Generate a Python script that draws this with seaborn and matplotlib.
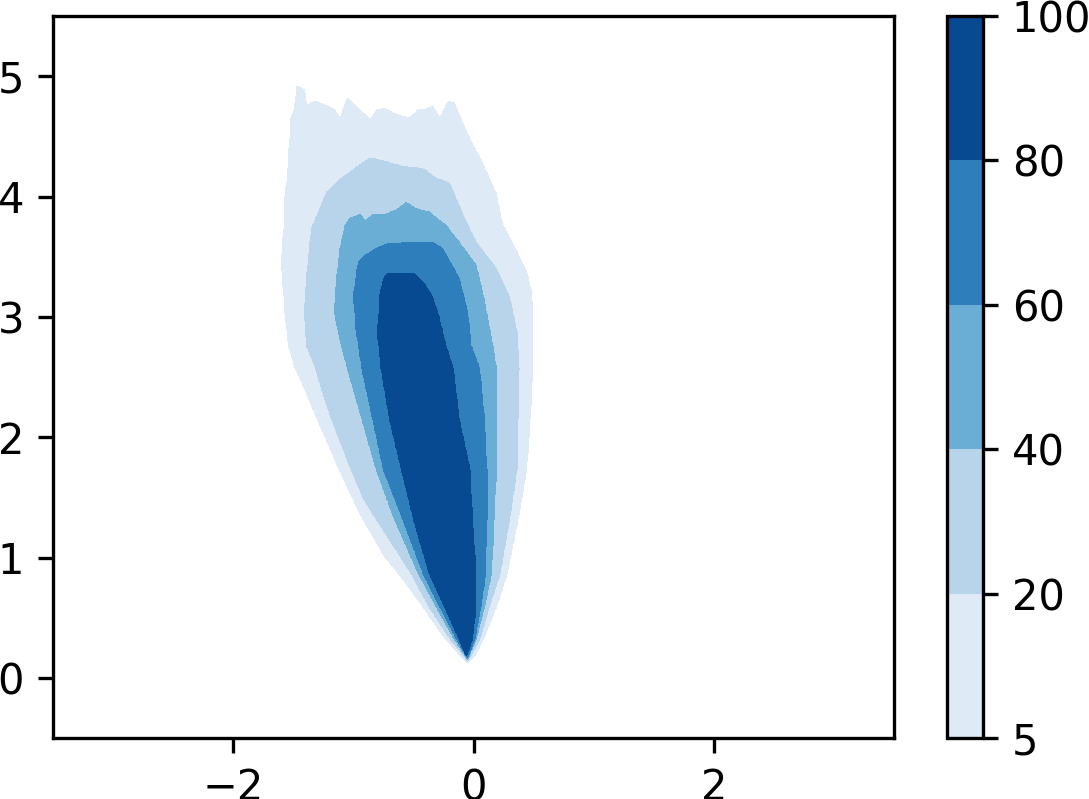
import numpy as np
import matplotlib
matplotlib.use("Agg")
import matplotlib.pyplot as plt
from matplotlib.path import Path
import seaborn as sns

# contour levels (percent) and the value painted inside each band
levels = [5, 20, 40, 60, 80, 100]
band_values = [12.5, 30, 50, 70, 90]

# outlines of each filled band (x, y)
outline_5 = [(-0.05, 0.125), (0.01, 0.18), (0.08, 0.32), (0.19, 0.59), (0.28, 0.87), (0.37, 1.32),
             (0.44, 1.73), (0.47, 2.15), (0.49, 2.57), (0.49, 3.04), (0.48, 3.21), (0.44, 3.38),
             (0.36, 3.54), (0.24, 3.77), (0.19, 4.02), (0.13, 4.15), (0.05, 4.33), (-0.01, 4.43),
             (-0.10, 4.63), (-0.16, 4.775), (-0.21, 4.79), (-0.28, 4.65), (-0.34, 4.75), (-0.41, 4.72),
             (-0.46, 4.72), (-0.53, 4.65), (-0.64, 4.68), (-0.74, 4.73), (-0.80, 4.72), (-0.86, 4.64),
             (-0.98, 4.75), (-1.05, 4.82), (-1.11, 4.65), (-1.17, 4.73), (-1.31, 4.79), (-1.35, 4.78),
             (-1.39, 4.76), (-1.41, 4.89), (-1.47, 4.92), (-1.49, 4.73), (-1.52, 4.65), (-1.55, 4.15),
             (-1.57, 4.00), (-1.58, 3.73), (-1.60, 3.45), (-1.59, 3.32), (-1.57, 3.04), (-1.54, 2.76),
             (-1.49, 2.59), (-1.37, 2.32), (-1.30, 2.15), (-1.13, 1.76), (-1.00, 1.48), (-0.92, 1.32),
             (-0.74, 1.01), (-0.63, 0.875), (-0.52, 0.73), (-0.33, 0.46), (-0.23, 0.32), (-0.13, 0.21)]
outline_20 = [(-0.05, 0.14), (0.05, 0.32), (0.13, 0.59), (0.22, 0.87), (0.30, 1.32), (0.36, 1.73),
              (0.37, 2.15), (0.38, 2.57), (0.36, 2.88), (0.30, 3.16), (0.19, 3.40), (0.02, 3.62),
              (-0.09, 3.85), (-0.20, 4.11), (-0.31, 4.15), (-0.42, 4.23), (-0.59, 4.25), (-0.73, 4.29),
              (-0.86, 4.32), (-0.93, 4.275), (-1.10, 4.15), (-1.22, 4.04), (-1.35, 3.73), (-1.39, 3.32),
              (-1.41, 3.04), (-1.39, 2.76), (-1.32, 2.59), (-1.24, 2.32), (-1.18, 2.15), (-1.03, 1.76),
              (-0.91, 1.48), (-0.81, 1.32), (-0.52, 0.87), (-0.37, 0.59), (-0.19, 0.32), (-0.11, 0.22)]
outline_40 = [(-0.05, 0.155), (0.02, 0.32), (0.09, 0.59), (0.15, 0.87), (0.17, 1.32), (0.19, 1.73),
              (0.19, 2.15), (0.19, 2.57), (0.16, 2.76), (0.08, 3.18), (0.02, 3.43), (-0.12, 3.62),
              (-0.23, 3.76), (-0.37, 3.87), (-0.48, 3.90), (-0.56, 3.95), (-0.64, 3.89), (-0.74, 3.85),
              (-0.84, 3.85), (-0.90, 3.80), (-0.95, 3.85), (-1.03, 3.82), (-1.07, 3.76), (-1.11, 3.57),
              (-1.14, 3.32), (-1.16, 3.04), (-1.10, 2.76), (-1.05, 2.57), (-0.93, 2.15), (-0.81, 1.73),
              (-0.66, 1.32), (-0.46, 0.87), (-0.31, 0.59), (-0.16, 0.32)]
outline_60 = [(-0.05, 0.165), (0.01, 0.32), (0.06, 0.59), (0.10, 0.87), (0.11, 1.32), (0.11, 1.73),
              (0.09, 2.15), (0.05, 2.57), (-0.02, 2.76), (-0.05, 3.04), (-0.12, 3.32), (-0.26, 3.57),
              (-0.34, 3.62), (-0.56, 3.62), (-0.64, 3.61), (-0.71, 3.61), (-0.81, 3.57), (-0.89, 3.52),
              (-0.96, 3.46), (-1.00, 3.18), (-0.98, 2.90), (-0.93, 2.57), (-0.84, 2.15), (-0.75, 1.73),
              (-0.59, 1.32), (-0.42, 0.87), (-0.28, 0.59), (-0.14, 0.32)]
outline_80 = [(-0.06, 0.18), (-0.01, 0.32), (0.02, 0.59), (0.02, 0.87), (-0.01, 1.32), (-0.03, 1.73),
              (-0.12, 2.15), (-0.17, 2.57), (-0.23, 2.76), (-0.30, 3.04), (-0.35, 3.18), (-0.42, 3.29),
              (-0.49, 3.36), (-0.71, 3.36), (-0.75, 3.32), (-0.78, 3.18), (-0.80, 2.86), (-0.77, 2.57),
              (-0.70, 2.15), (-0.60, 1.73), (-0.50, 1.32), (-0.37, 0.87), (-0.24, 0.59), (-0.12, 0.32)]
outlines = [outline_5, outline_20, outline_40, outline_60, outline_80]

x_ticks = [-2, 0, 2]
y_ticks = [0, 1, 2, 3, 4, 5]


def main():
    plt.rcParams.update({'font.size': 10, 'font.family': ['DejaVu Sans']})
    cmap = sns.color_palette("Blues", as_cmap=True)

    # build a field on a fine grid: each point takes the value of the innermost band it falls in
    xs = np.linspace(-3.5, 3.5, 1401)
    ys = np.linspace(-0.5, 5.5, 1201)
    X, Y = np.meshgrid(xs, ys)
    pts = np.column_stack([X.ravel(), Y.ravel()])
    Z = np.zeros(X.size)
    for outline, val in zip(outlines, band_values):
        inside = Path(np.array(outline)).contains_points(pts)
        Z = np.where(inside, np.maximum(Z, val), Z)
    Z = Z.reshape(X.shape)

    fig = plt.figure(figsize=(1089 / 300, 799 / 300), dpi=300)
    ax = fig.add_axes([0.0489, 0.076, 0.772, 0.904])
    cax = fig.add_axes([0.8693, 0.076, 0.0331, 0.904])

    cs = ax.contourf(X, Y, Z, levels=levels, cmap=cmap, vmin=0, vmax=100)
    ax.set_xlim(-3.5, 3.5)
    ax.set_ylim(-0.5, 5.5)
    ax.set_xticks(x_ticks)
    ax.set_yticks(y_ticks)

    cb = fig.colorbar(cs, cax=cax)
    cb.set_ticks(levels)

    fig.savefig("out.png", dpi=300)
    plt.close(fig)


if __name__ == "__main__":
    main()
